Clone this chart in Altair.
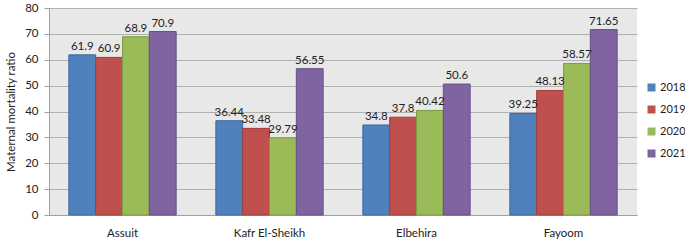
import altair as alt
import pandas as pd

regions = ["Assuit", "Kafr El-Sheikh", "Elbehira", "Fayoom"]
years = ["2018", "2019", "2020", "2021"]
v2018 = [61.9, 36.44, 34.8, 39.25]
v2019 = [60.9, 33.48, 37.8, 48.13]
v2020 = [68.9, 29.79, 40.42, 58.57]
v2021 = [70.9, 56.55, 50.6, 71.65]
colors = ["#4F81BD", "#C0504D", "#9BBB59", "#8064A2"]
strokes = ["#3f6aa0", "#a03d3a", "#7f9c45", "#664f86"]

rows = []
for yr, vals in zip(years, [v2018, v2019, v2020, v2021]):
    for r, v in zip(regions, vals):
        rows.append({"region": r, "year": yr, "value": v, "label": f"{v:g}"})
df = pd.DataFrame(rows)

FONT = "Lato"

x = alt.X("region:N", sort=regions, title=None,
          scale=alt.Scale(paddingInner=0.27, paddingOuter=0.135),
          axis=alt.Axis(labelAngle=0, labelFontSize=11.5, labelColor="#222", labelPadding=12,
                        ticks=False, domain=True, domainColor="#a0a0a0", labelFont=FONT))
y = alt.Y("value:Q", title="Maternal mortality ratio",
          scale=alt.Scale(domain=[0, 80], nice=False),
          axis=alt.Axis(values=list(range(0, 81, 10)), labelFontSize=11.5, labelColor="#222",
                        titleFontSize=11.5, titleFontWeight="normal", titleColor="#222",
                        titleFont=FONT, labelFont=FONT,
                        grid=True, gridColor="#b0b0b0", gridWidth=1.2,
                        domainColor="#a0a0a0", tickColor="#a0a0a0", tickSize=5,
                        labelPadding=6, titlePadding=8))
xo = alt.XOffset("year:N", sort=years, scale=alt.Scale(paddingInner=0, paddingOuter=0))

bars = alt.Chart(df).mark_bar(strokeWidth=1).encode(
    x=x, y=y, xOffset=xo,
    color=alt.Color("year:N", sort=years, scale=alt.Scale(domain=years, range=colors),
                    legend=alt.Legend(title=None, orient="none", legendX=597, legendY=74,
                                      symbolType="square", symbolSize=64, symbolStrokeWidth=0,
                                      labelFontSize=11, labelColor="#222", labelFont=FONT,
                                      rowPadding=10, labelOffset=3)),
    stroke=alt.Stroke("year:N", sort=years, scale=alt.Scale(domain=years, range=strokes), legend=None),
)

text = alt.Chart(df).mark_text(dy=-8, fontSize=11.5, color="#222", font=FONT).encode(
    x=x, y=y, xOffset=xo, text="label:N"
)

chart = (bars + text).properties(width=588, height=207).configure_view(
    fill="#e8e8e8", stroke=None
).properties(
    autosize=alt.AutoSizeParams(type="none"),
    padding={"left": 49, "top": 8, "right": 48, "bottom": 26},
    background="white",
)

chart.save("out.html", embed_options={"renderer": "svg", "actions": False})
